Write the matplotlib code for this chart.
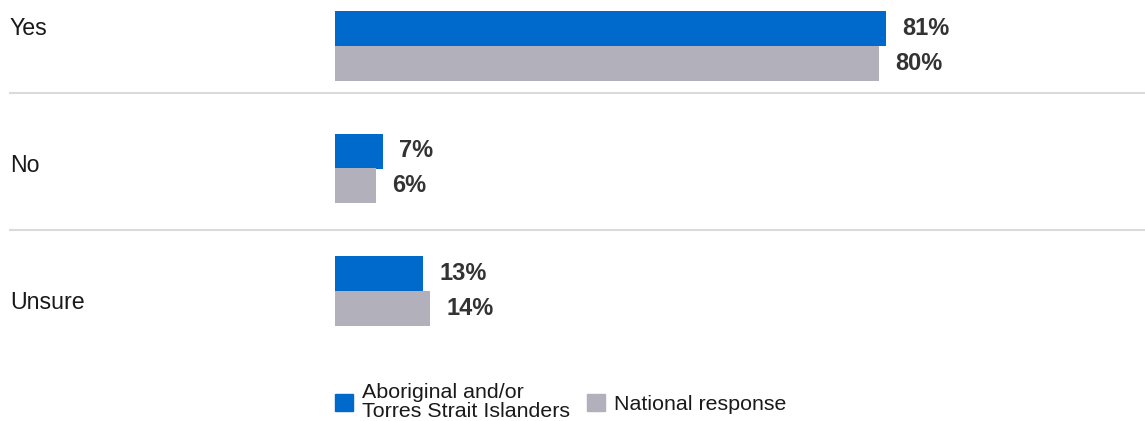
import numpy as np
import matplotlib
matplotlib.use('Agg')
import matplotlib.pyplot as plt
from matplotlib.patches import Patch

# Data
categories = ['Yes', 'No', 'Unsure']
series_names = ['Aboriginal and/or\nTorres Strait Islanders', 'National response']
aboriginal = [81, 7, 13]
national = [80, 6, 14]

blue = '#006ACC'
grey = '#B1B0BB'

plt.rcParams['font.family'] = ['Liberation Sans', 'DejaVu Sans']

W, H = 1145, 421
fig = plt.figure(figsize=(W / 100, H / 100), dpi=100)

# axes: bars start at 335 px, 6.8 px per percent
left_px = 335
px_per_pct = 6.8
step_px = 122.5
ax = fig.add_axes([left_px / W, 0, (W - left_px) / W, 1])
ax.set_xlim(0, (W - left_px) / px_per_pct)
ax.set_ylim((H - 46) / step_px, -46 / step_px)
ax.axis('off')

y = np.arange(len(categories))
bh = 35 / step_px

ax.barh(y - bh / 2, aboriginal, height=bh, color=blue, linewidth=0)
ax.barh(y + bh / 2, national, height=bh, color=grey, linewidth=0)

off = 16 / px_per_pct
for i in range(len(categories)):
    ax.text(aboriginal[i] + off, y[i] - bh / 2, f'{aboriginal[i]}%', va='center', ha='left',
            fontsize=17, fontweight='bold', color='#333333')
    ax.text(national[i] + off, y[i] + bh / 2, f'{national[i]}%', va='center', ha='left',
            fontsize=17, fontweight='bold', color='#333333')

# row separators and category labels
sep0 = 47 / step_px
row_step = 137 / step_px
x_lab = (10 - left_px) / (W - left_px)
for i in range(len(categories) - 1):
    ax.axhline(sep0 + i * row_step, xmin=x_lab, xmax=1, color='#DADADA', lw=1.5, clip_on=False)
for i, cat in enumerate(categories):
    ax.text(x_lab, sep0 + (i - 0.5) * row_step + 4 / step_px, cat, transform=ax.get_yaxis_transform(),
            va='center', ha='left', fontsize=16.7, color='#1a1a1a')

handles = [Patch(color=blue), Patch(color=grey)]
leg = fig.legend(handles, series_names, loc='center left', bbox_to_anchor=(left_px / W, 1 - 402 / H),
                 ncol=2, frameon=False, fontsize=15.4, borderpad=0, borderaxespad=0,
                 handlelength=0.84, handleheight=0.84, handletextpad=0.42, columnspacing=0.8)
for t in leg.get_texts():
    t.set_linespacing(0.95)
    t.set_color('#1a1a1a')

fig.savefig('out.png', dpi=100)
